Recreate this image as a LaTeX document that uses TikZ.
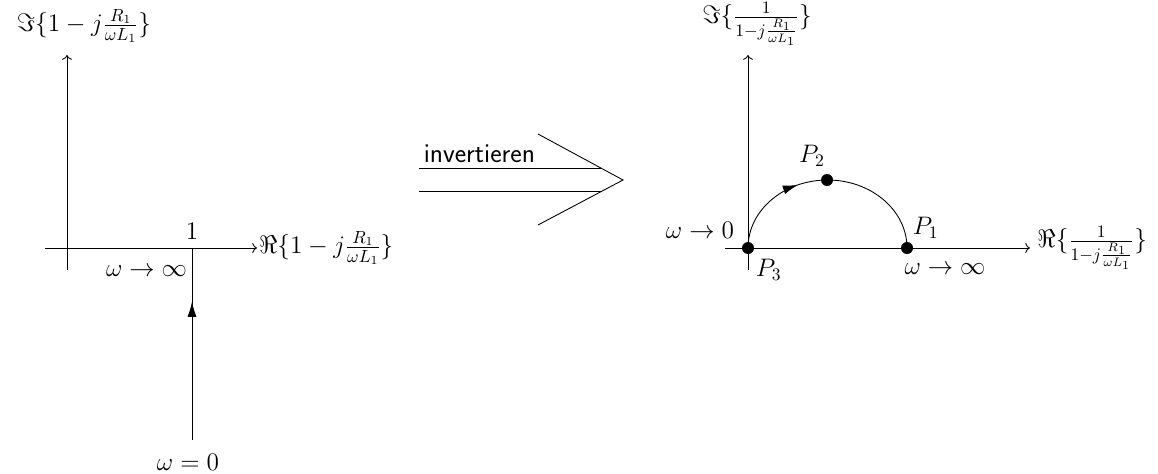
\documentclass[tikz,border=0pt]{standalone}
\usepackage{amsmath,amssymb}
\renewcommand{\familydefault}{\sfdefault}
\usepackage{tikz}
\usetikzlibrary{arrows.meta, positioning, calc, decorations.markings}

\begin{document}
\begin{tikzpicture}[x=0.02cm, y=-0.02cm, line width=0.5pt, every node/.style={font=\Large},
    axis/.style={->},
    dot/.style={circle, fill=black, inner sep=0pt, minimum size=0.24cm},
    midarrow/.style={postaction={decorate}, decoration={markings, mark=at position #1 with {\arrow{Latex[length=3mm, width=1.8mm]}}}}]
    \useasboundingbox (0,0) rectangle (1158,473);

    % left plane
    \coordinate (LX0) at (45,248);
    \coordinate (LX1) at (257,248);
    \coordinate (LY0) at (67,270);
    \coordinate (LY1) at (67,55);
    \draw[axis] (LX0) -- (LX1);
    \draw[axis] (LY0) -- (LY1);
    \node[anchor=west, inner sep=1pt] (LRe) at (LX1) {$\Re\{1-j\frac{R_1}{\omega L_1}\}$};
    \node (LIm) at (84,26) {$\Im\{1-j\frac{R_1}{\omega L_1}\}$};
    \coordinate (A) at (192,248);
    \coordinate (B) at (192,440);
    \node (one) at (192,231) {$1$};
    \node[anchor=north east, inner sep=2pt] (winf) at (191,262) {$\omega\to\infty$};
    \node (wzero) at (188,462) {$\omega=0$};
    \draw[midarrow=0.72] (B) -- (A);

    % inversion arrow
    \coordinate (I1) at (419,168);
    \coordinate (I2) at (601,168);
    \coordinate (I3) at (419,191);
    \coordinate (I4) at (601,191);
    \coordinate (H1) at (538,134);
    \coordinate (H2) at (623,180);
    \coordinate (H3) at (538,225);
    \draw (I1) -- (I2);
    \draw (I3) -- (I4);
    \draw (H1) -- (H2) -- (H3);
    \node[anchor=south west, inner sep=2.5pt, font=\fontsize{15.5}{18}\selectfont] (inv) at (I1) {invertieren};

    % right plane
    \coordinate (RX0) at (725,248);
    \coordinate (RX1) at (1030,248);
    \coordinate (RY0) at (748,270);
    \coordinate (RY1) at (748,55);
    \draw[axis] (RX0) -- (RX1);
    \draw[axis] (RY0) -- (RY1);
    \node[anchor=west, inner sep=4pt] (RRe) at (RX1) {$\Re\{\frac{1}{1-j\frac{R_1}{\omega L_1}}\}$};
    \node[anchor=north, inner sep=1pt] (RIm) at (757,0) {$\Im\{\frac{1}{1-j\frac{R_1}{\omega L_1}}\}$};
    \node[dot] (P3) at (748,248) {};
    \node[dot] (P1) at (907,248) {};
    \node[dot] (P2) at (827,180) {};
    \draw[midarrow=0.37] (P3.center) arc[start angle=180, end angle=360, x radius=79.5, y radius=68];
    \node[anchor=south east, inner sep=2pt] (w0) at (738,242) {$\omega\to0$};
    \node[anchor=north west, inner sep=2pt] (lP3) at (752,255) {$P_3$};
    \node[anchor=south west, inner sep=2pt] (lP1) at (909,242) {$P_1$};
    \node[anchor=south, inner sep=2pt] (lP2) at (812,170) {$P_2$};
    \node[anchor=north, inner sep=2pt] (winf2) at (945,260) {$\omega\to\infty$};
\end{tikzpicture}
\end{document}
